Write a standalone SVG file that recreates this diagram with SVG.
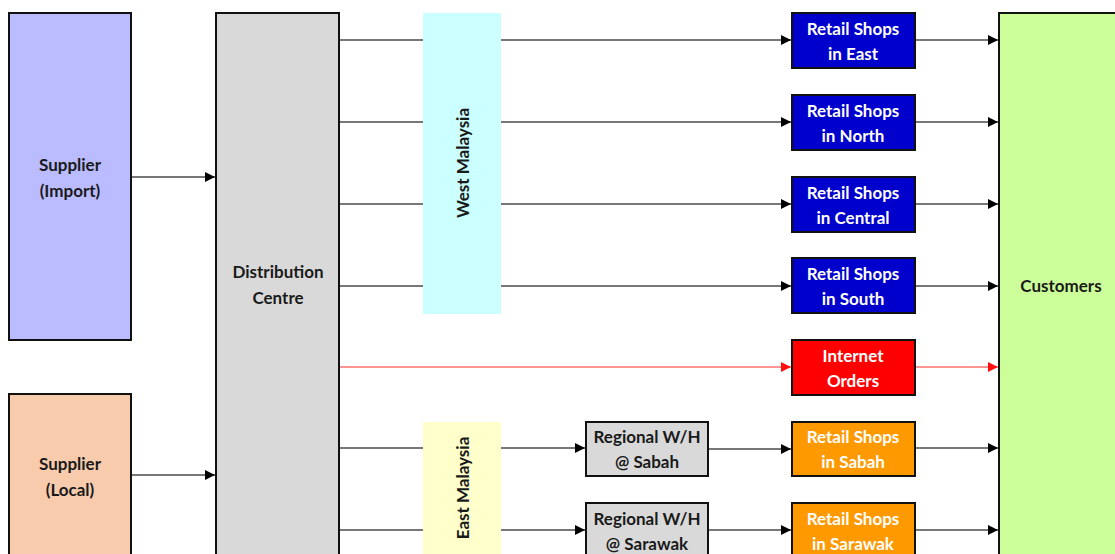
<svg xmlns="http://www.w3.org/2000/svg" width="1115" height="554" viewBox="0 0 1115 554">
<style>
.box{stroke:#111;stroke-width:2}
.t{font-family:Lato,"Open Sans","Liberation Sans",sans-serif;font-weight:bold;font-size:17px;text-anchor:middle}
.dk{fill:#1a1a1a}
.wt{fill:#ffffff}
.ln{stroke:#4a4a4a;stroke-width:1.3;fill:none}
.rd{stroke:#ff7070;stroke-width:1.4;fill:none}
</style>
<defs>
<marker id="ah" viewBox="0 0 10 10" refX="10" refY="5" markerWidth="10" markerHeight="10" markerUnits="userSpaceOnUse" orient="auto"><path d="M0,0 L10,5 L0,10 Z" fill="#000"/></marker>
<marker id="ahr" viewBox="0 0 10 10" refX="10" refY="5" markerWidth="10" markerHeight="10" markerUnits="userSpaceOnUse" orient="auto"><path d="M0,0 L10,5 L0,10 Z" fill="#ff1010"/></marker>
</defs>
<rect width="1115" height="554" fill="#fff"/>
<g id="connectors">
<line class="ln" x1="131" y1="177" x2="215" y2="177" marker-end="url(#ah)"/>
<line class="ln" x1="131" y1="475" x2="215" y2="475" marker-end="url(#ah)"/>
<line class="ln" x1="339" y1="40" x2="791" y2="40" marker-end="url(#ah)"/>
<line class="ln" x1="339" y1="122" x2="791" y2="122" marker-end="url(#ah)"/>
<line class="ln" x1="339" y1="204" x2="791" y2="204" marker-end="url(#ah)"/>
<line class="ln" x1="339" y1="286" x2="791" y2="286" marker-end="url(#ah)"/>
<line class="rd" x1="339" y1="367" x2="791" y2="367" marker-end="url(#ahr)"/>
<line class="ln" x1="339" y1="448" x2="585" y2="448" marker-end="url(#ah)"/>
<line class="ln" x1="339" y1="530" x2="585" y2="530" marker-end="url(#ah)"/>
<line class="ln" x1="708" y1="449" x2="791" y2="449" marker-end="url(#ah)"/>
<line class="ln" x1="708" y1="530" x2="791" y2="530" marker-end="url(#ah)"/>
<line class="ln" x1="915" y1="40" x2="998" y2="40" marker-end="url(#ah)"/>
<line class="ln" x1="915" y1="122" x2="998" y2="122" marker-end="url(#ah)"/>
<line class="ln" x1="915" y1="204" x2="998" y2="204" marker-end="url(#ah)"/>
<line class="ln" x1="915" y1="286" x2="998" y2="286" marker-end="url(#ah)"/>
<line class="rd" x1="915" y1="367" x2="998" y2="367" marker-end="url(#ahr)"/>
<line class="ln" x1="915" y1="448" x2="998" y2="448" marker-end="url(#ah)"/>
<line class="ln" x1="915" y1="530" x2="998" y2="530" marker-end="url(#ah)"/>
</g>
<g id="supplier-import">
<rect class="box" x="9" y="13" width="122" height="327" fill="#bbbbff"/>
<text class="t dk" x="70" y="171">Supplier</text>
<text class="t dk" x="70" y="197">(Import)</text>
</g>
<g id="supplier-local">
<rect class="box" x="9" y="394" width="122" height="170" fill="#f8cbad"/>
<text class="t dk" x="70" y="470">Supplier</text>
<text class="t dk" x="70" y="496">(Local)</text>
</g>
<g id="distribution-centre">
<rect class="box" x="216" y="13" width="123" height="551" fill="#d9d9d9"/>
<text class="t dk" x="278" y="278">Distribution</text>
<text class="t dk" x="278" y="304">Centre</text>
</g>
<g id="west-malaysia">
<rect x="423" y="13" width="78" height="301" fill="#ccffff"/>
<text class="t dk" transform="translate(469,163) rotate(-90)">West Malaysia</text>
</g>
<g id="east-malaysia">
<rect x="423" y="422" width="78" height="140" fill="#ffffcc"/>
<text class="t dk" transform="translate(469,488) rotate(-90)">East Malaysia</text>
</g>
<g id="retail-east">
<rect class="box" x="792" y="13" width="123" height="55" fill="#0000cc"/>
<text class="t wt" x="853" y="35">Retail Shops</text>
<text class="t wt" x="853" y="60">in East</text>
</g>
<g id="retail-north">
<rect class="box" x="792" y="95" width="123" height="55" fill="#0000cc"/>
<text class="t wt" x="853" y="117">Retail Shops</text>
<text class="t wt" x="853" y="142">in North</text>
</g>
<g id="retail-central">
<rect class="box" x="792" y="177" width="123" height="55" fill="#0000cc"/>
<text class="t wt" x="853" y="199">Retail Shops</text>
<text class="t wt" x="853" y="224">in Central</text>
</g>
<g id="retail-south">
<rect class="box" x="792" y="258" width="123" height="55" fill="#0000cc"/>
<text class="t wt" x="853" y="280">Retail Shops</text>
<text class="t wt" x="853" y="305">in South</text>
</g>
<g id="internet-orders">
<rect class="box" x="792" y="340" width="123" height="55" fill="#ff0000"/>
<text class="t wt" x="853" y="362">Internet</text>
<text class="t wt" x="853" y="387">Orders</text>
</g>
<g id="regional-sabah">
<rect class="box" x="586" y="422" width="122" height="54" fill="#d9d9d9"/>
<text class="t dk" x="647" y="443">Regional W/H</text>
<text class="t dk" x="647" y="468">@ Sabah</text>
</g>
<g id="regional-sarawak">
<rect class="box" x="586" y="503" width="122" height="55" fill="#d9d9d9"/>
<text class="t dk" x="647" y="525">Regional W/H</text>
<text class="t dk" x="647" y="550">@ Sarawak</text>
</g>
<g id="retail-sabah">
<rect class="box" x="792" y="422" width="123" height="54" fill="#ff9900"/>
<text class="t wt" x="853" y="443">Retail Shops</text>
<text class="t wt" x="853" y="468">in Sabah</text>
</g>
<g id="retail-sarawak">
<rect class="box" x="792" y="503" width="123" height="55" fill="#ff9900"/>
<text class="t wt" x="853" y="525">Retail Shops</text>
<text class="t wt" x="853" y="550">in Sarawak</text>
</g>
<g id="customers">
<rect class="box" x="999" y="13" width="130" height="551" fill="#ccff99"/>
<text class="t dk" x="1061" y="292">Customers</text>
</g>
</svg>
